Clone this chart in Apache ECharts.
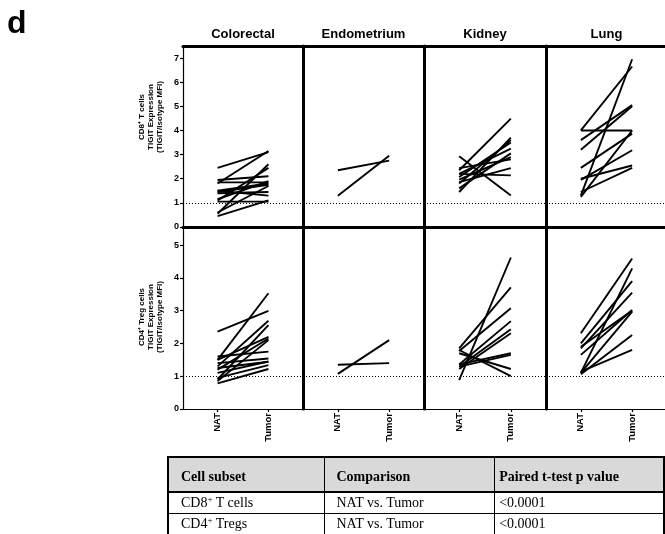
<!DOCTYPE html>
<html>
<head>
<meta charset="utf-8">
<script src="https://cdn.jsdelivr.net/npm/echarts@6.0.0/dist/echarts.min.js"></script>
<style>
  html, body { margin:0; padding:0; background:#fff; }
  body { width:665px; height:534px; overflow:hidden; position:relative; }
  #chart { position:absolute; left:0; top:0; width:665px; height:534px; }
  #tbl { position:absolute; left:167px; top:456px; border-collapse:collapse; font-family:"Liberation Serif","Times New Roman",serif; font-size:14px; color:#000; }
  #tbl td { padding:0; vertical-align:middle; }
  #tbl tr.hd td { background:#d9d9d9; font-weight:bold; height:29px; padding-top:4px; border-top:2.5px solid #000; border-bottom:2px solid #000; }
  #tbl tr.rw td { height:20px; border-bottom:1.5px solid #000; }
  #tbl td.c1 { width:148px; padding-left:12px; border-left:2.5px solid #000; border-right:1.5px solid #000; }
  #tbl td.c2 { width:162px; padding-left:12px; border-right:1.5px solid #000; }
  #tbl td.c3 { width:170px; padding-left:4px; border-right:2px solid #000; }
  sup { font-size:9px; vertical-align:5px; line-height:0; }
</style>
</head>
<body>
<div id="chart"></div>
<table id="tbl"></table>
<script>
// ---------------- data ----------------
const categories = ['NAT', 'Tumor'];
const tissues = ['Colorectal', 'Endometrium', 'Kidney', 'Lung'];
const cd8AxisName = ['CD8\u207A T cells', 'TIGIT Expression', '(TIGIT/Isotype MFI)'];
const cd4AxisName = ['CD4\u207A Treg cells', 'TIGIT Expression', '(TIGIT/Isotype MFI)'];
const cd8Ticks = [0, 1, 2, 3, 4, 5, 6, 7];
const cd4Ticks = [0, 1, 2, 3, 4, 5];

const cd8ColorectalNAT   = [2.45, 1.8, 0.55, 0.45, 1.95, 1.85, 1.5, 1.45, 1.5, 1.1, 1.05, 1.4, 0.6, 1.15];
const cd8ColorectalTumor = [3.1, 3.15, 2.6, 1.1, 2.1, 1.85, 1.8, 1.75, 1.3, 2.45, 1.05, 1.45, 1.7, 1.9];
const cd8EndometriumNAT   = [2.35, 1.3];
const cd8EndometriumTumor = [2.75, 2.95];
const cd8KidneyNAT   = [2.35, 2.93, 1.45, 1.8, 2.07, 2.2, 1.96, 2.44, 1.86, 2.2, 1.6];
const cd8KidneyTumor = [4.49, 1.31, 3.7, 3.6, 3.5, 3.25, 2.9, 2.8, 2.44, 2.14, 3.05];
const cd8LungNAT   = [4.0, 4.0, 1.3, 3.6, 3.2, 2.45, 1.25, 2.0, 1.95, 1.45];
const cd8LungTumor = [6.65, 4.0, 6.95, 5.05, 5.0, 3.87, 4.0, 2.55, 3.18, 2.45];

const cd4ColorectalNAT   = [2.36, 1.5, 1.3, 0.9, 1.2, 0.85, 1.6, 1.4, 1.25, 0.95, 0.78, 1.1, 1.5];
const cd4ColorectalTumor = [2.99, 3.53, 2.69, 2.56, 2.15, 2.1, 1.75, 1.54, 1.44, 1.34, 1.22, 1.45, 2.2];
const cd4EndometriumNAT   = [1.35, 1.07];
const cd4EndometriumTumor = [1.4, 2.1];
const cd4KidneyNAT   = [0.88, 1.85, 1.77, 1.36, 1.29, 1.22, 1.36, 1.29, 1.7, 1.8];
const cd4KidneyTumor = [4.62, 3.71, 3.07, 2.68, 2.43, 2.31, 1.7, 1.65, 1.22, 1.0];
const cd4LungNAT   = [2.31, 1.1, 2.0, 1.85, 1.65, 1.1, 1.06, 1.14, 1.9];
const cd4LungTumor = [4.59, 4.29, 3.9, 3.55, 3.02, 2.97, 2.26, 1.8, 3.0];

const thresholdValue = 1;

const tableHeader = ['Cell subset', 'Comparison', 'Paired t-test p value'];
const tableRows = [
  ['CD8<sup>+</sup> T cells', 'NAT vs. Tumor', '&lt;0.0001'],
  ['CD4<sup>+</sup> Tregs', 'NAT vs. Tumor', '&lt;0.0001']
];

// ---------------- layout ----------------
const panels = [
  [[cd8ColorectalNAT, cd8ColorectalTumor], [cd8EndometriumNAT, cd8EndometriumTumor], [cd8KidneyNAT, cd8KidneyTumor], [cd8LungNAT, cd8LungTumor]],
  [[cd4ColorectalNAT, cd4ColorectalTumor], [cd4EndometriumNAT, cd4EndometriumTumor], [cd4KidneyNAT, cd4KidneyTumor], [cd4LungNAT, cd4LungTumor]]
];
const rowTicks = [cd8Ticks, cd4Ticks];
const rowNames = [cd8AxisName, cd4AxisName];
const colLeft = [183, 303, 424, 546, 667];
const rowTop = [46, 227];
const rowHeight = [181, 182];
const yMax = [7.5, 5.55];
const FONT = '"Liberation Sans", Arial, sans-serif';

const grids = [], xAxes = [], yAxes = [], series = [], graphics = [];

for (let r = 0; r < 2; r++) {
  for (let c = 0; c < 4; c++) {
    const gi = grids.length;
    grids.push({ left: colLeft[c], top: rowTop[r], width: colLeft[c + 1] - colLeft[c], height: rowHeight[r], containLabel: false, outerBoundsMode: 'none' });
    yAxes.push({
      gridIndex: gi, type: 'value', min: 0, max: yMax[r], interval: 1, position: 'left',
      splitLine: { show: false },
      axisLine: { show: true, onZero: false, lineStyle: { color: '#000', width: c === 0 ? 1.2 : 3 } },
      axisTick: { show: c === 0, length: 3, lineStyle: { color: '#000', width: 1.2 }, customValues: rowTicks[r] },
      axisLabel: { show: c === 0, customValues: rowTicks[r], color: '#000', fontSize: 9, fontWeight: 'bold', fontFamily: FONT, margin: 4 }
    });
    const xi = xAxes.length;
    xAxes.push({
      gridIndex: gi, type: 'value', min: -0.68, max: 1.68, position: 'bottom',
      splitLine: { show: false },
      axisLine: { show: true, onZero: false, lineStyle: { color: '#000', width: r === 0 ? 3 : 1.2 } },
      axisTick: { show: r === 1, length: 3, lineStyle: { color: '#000', width: 1.2 }, customValues: [0, 1] },
      axisLabel: { show: r === 1, customValues: [0, 1], formatter: v => categories[Math.round(v)], rotate: 90,
                   color: '#000', fontSize: 9.5, fontWeight: 'bold', fontFamily: FONT, margin: 4 }
    });
    if (r === 0) {
      xAxes.push({
        gridIndex: gi, type: 'value', min: -0.68, max: 1.68, position: 'top',
        splitLine: { show: false },
        axisLine: { show: true, onZero: false, lineStyle: { color: '#000', width: 3 } },
        axisTick: { show: false }, axisLabel: { show: false }
      });
    }
    const [nat, tum] = panels[r][c];
    nat.forEach((v, i) => {
      const s = {
        type: 'line', xAxisIndex: xi, yAxisIndex: gi,
        data: [[0, v], [1, tum[i]]],
        symbol: 'none', showSymbol: false, silent: true, animation: false, z: 3,
        lineStyle: { color: '#000', width: 1.9 }
      };
      if (i === 0) {
        s.markLine = {
          silent: true, animation: false, symbol: ['none', 'none'], label: { show: false },
          lineStyle: { color: '#000', width: 1, type: [1, 2] },
          emphasis: { disabled: true },
          data: [{ yAxis: thresholdValue }]
        };
      }
      series.push(s);
    });
  }
}

// panel titles
tissues.forEach((t, c) => {
  graphics.push({ type: 'text', x: (colLeft[c] + colLeft[c + 1]) / 2, y: 34,
    style: { text: t, align: 'center', verticalAlign: 'middle', fill: '#000', font: 'bold 13px ' + FONT } });
});
// row axis names
const nameCenterY = [117, 317];
rowNames.forEach((lines, r) => {
  graphics.push({ type: 'text', x: 151, y: nameCenterY[r], rotation: Math.PI / 2,
    style: { text: lines.join('\n'), align: 'center', verticalAlign: 'middle', lineHeight: 8.8, fill: '#000', font: 'bold 8px ' + FONT } });
});
// panel letter
graphics.push({ type: 'text', x: 7, y: 8,
  style: { text: 'd', align: 'left', verticalAlign: 'top', fill: '#000', font: 'bold 32px ' + FONT } });

const chart = echarts.init(document.getElementById('chart'), null, { renderer: 'canvas' });
chart.setOption({
  animation: false,
  backgroundColor: '#fff',
  grid: grids, xAxis: xAxes, yAxis: yAxes, series: series, graphic: graphics
});

// table
const tbl = document.getElementById('tbl');
let html = '<tr class="hd">' + tableHeader.map((h, i) => '<td class="c' + (i + 1) + '">' + h + '</td>').join('') + '</tr>';
tableRows.forEach(row => {
  html += '<tr class="rw">' + row.map((h, i) => '<td class="c' + (i + 1) + '">' + h + '</td>').join('') + '</tr>';
});
tbl.innerHTML = html;
</script>
</body>
</html>
